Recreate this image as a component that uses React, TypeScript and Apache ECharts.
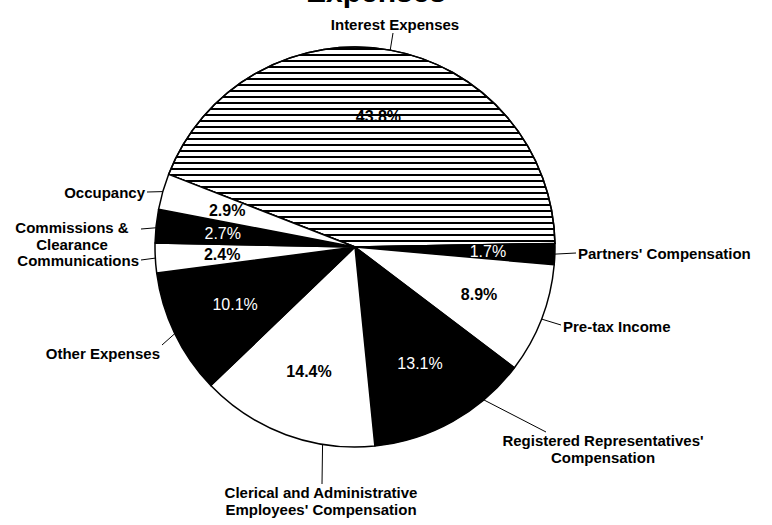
import React, { useEffect, useRef } from 'react';
import * as echarts from 'echarts';

const categories = [
  'Interest Expenses',
  "Partners' Compensation",
  'Pre-tax Income',
  "Registered Representatives'\nCompensation",
  "Clerical and Administrative\nEmployees' Compensation",
  'Other Expenses',
  'Communications',
  'Commissions &\nClearance',
  'Occupancy',
];
const shares = [43.8, 1.7, 8.9, 13.1, 14.4, 10.1, 2.4, 2.7, 2.9];
const fills = ['hatch', '#000', '#fff', '#000', '#fff', '#000', '#fff', '#000', '#fff'];
const titleText = 'Expenses';

// label placement (style): anchor x, y, align
const labelAnchors: [number, number, string][] = [
  [395, 24, 'center'],
  [578, 253, 'left'],
  [563, 326, 'left'],
  [603, 449, 'center'],
  [321, 501, 'center'],
  [160, 353, 'right'],
  [139, 260, 'right'],
  [72, 236, 'center'],
  [145, 192, 'right'],
];
// where each leader line leaves its slice (fraction of the slice's sweep)
const leaderFraction = [0.5, 0.5, 0.5, 0.27, 0.29, 0.5, 0.5, 0.45, 0.5];
// where each leader line ends, next to its label (style)
const leaderEnds: [number, number][] = [
  [393, 33],
  [576, 253],
  [561, 325],
  [546, 432],
  [322, 484],
  [162, 345],
  [141, 260],
  [141, 229],
  [147, 192],
];

const FONT = '"Liberation Sans", Arial, sans-serif';
const CENTER = [355, 247];
const RADIUS = 200;
const START = 158.7;

export default function App() {
  const ref = useRef<HTMLDivElement>(null);
  useEffect(() => {
    const chart = echarts.init(ref.current!, null, { renderer: 'svg' });
    const total = shares.reduce((a, b) => a + b, 0);
    let acc = 0;
    const leaderAngles = shares.map((v, i) => {
      const a = START - ((acc + v * leaderFraction[i]) / total) * 360;
      acc += v;
      return a;
    });
    const mainData = categories.map((name, i) => {
      const f = fills[i];
      const itemStyle: any =
        f === 'hatch'
          ? {
              color: '#fff',
              decal: {
                symbol: 'rect',
                symbolSize: 1,
                color: '#000',
                dashArrayX: [1, 0],
                dashArrayY: [2, 4],
                rotation: 0,
              },
            }
          : { color: f };
      return { name, value: shares[i], itemStyle };
    });
    const innerData = categories.map((name, i) => {
      const dark = fills[i] === '#000';
      return {
        name,
        value: shares[i],
        itemStyle: { color: 'rgba(0,0,0,0)' },
        label: {
          color: dark ? '#fff' : '#000',
          fontWeight: dark ? 'normal' : 'bold',
        },
      };
    });
    chart.setOption({
      animation: false,
      backgroundColor: '#fff',
      graphic: [
        {
          type: 'text',
          x: 376,
          y: 6,
          style: {
            text: titleText,
            font: `bold 30px ${FONT}`,
            fill: '#000',
            align: 'center',
            verticalAlign: 'bottom',
          },
        },
      ],
      series: [
        {
          type: 'pie',
          center: CENTER,
          radius: RADIUS,
          startAngle: START,
          clockwise: true,
          silent: true,
          avoidLabelOverlap: false,
          itemStyle: { borderColor: '#000', borderWidth: 1.5 },
          label: {
            show: true,
            position: 'outside',
            formatter: '{b}',
            color: '#000',
            fontFamily: FONT,
            fontWeight: 'bold',
            fontSize: 15,
            lineHeight: 17,
          },
          labelLine: {
            show: true,
            length: 10,
            length2: 0,
            lineStyle: { color: '#000', width: 1 },
          },
          labelLayout: (params: any) => {
            const i = params.dataIndex;
            const a = labelAnchors[i];
            const rad = (leaderAngles[i] * Math.PI) / 180;
            const p0 = [
              CENTER[0] + RADIUS * Math.cos(rad),
              CENTER[1] - RADIUS * Math.sin(rad),
            ];
            return {
              x: a[0],
              y: a[1],
              align: a[2],
              verticalAlign: 'middle',
              labelLinePoints: [p0, leaderEnds[i]],
            };
          },
          data: mainData,
        },
        {
          type: 'pie',
          center: CENTER,
          radius: 260,
          startAngle: START,
          clockwise: true,
          silent: true,
          z: 5,
          itemStyle: { borderWidth: 0 },
          label: {
            show: true,
            position: 'inside',
            formatter: '{c}%',
            fontFamily: FONT,
            fontSize: 16,
          },
          labelLine: { show: false },
          data: innerData,
        },
      ],
    });
    return () => chart.dispose();
  }, []);
  return (
    <div
      ref={ref}
      style={{ position: 'fixed', left: 0, top: 0, width: 772, height: 525 }}
    />
  );
}
